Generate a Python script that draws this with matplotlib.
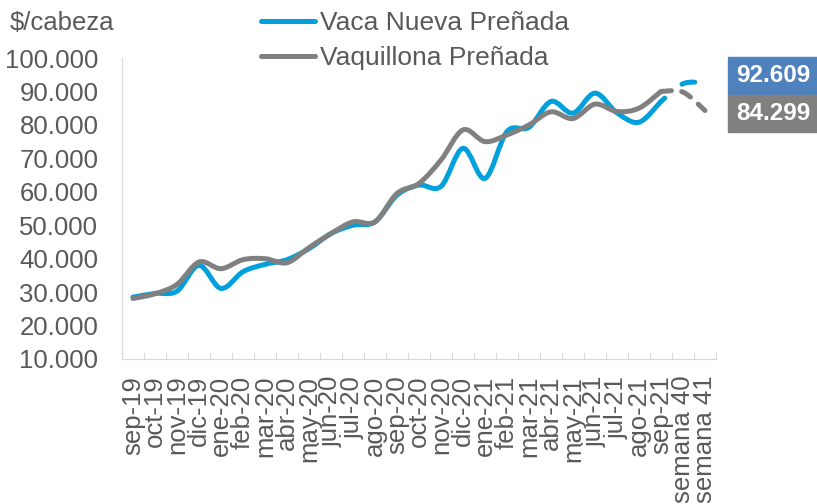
import numpy as np
import matplotlib
matplotlib.use('Agg')
import matplotlib.pyplot as plt
from matplotlib.path import Path
from matplotlib.patches import PathPatch, Rectangle
from matplotlib.lines import Line2D
from matplotlib.ticker import FuncFormatter, FixedLocator

plt.rcParams['font.family'] = ['Liberation Sans', 'DejaVu Sans']
plt.rcParams['lines.scale_dashes'] = False

meses = ['sep-19', 'oct-19', 'nov-19', 'dic-19', 'ene-20', 'feb-20', 'mar-20',
         'abr-20', 'may-20', 'jun-20', 'jul-20', 'ago-20', 'sep-20', 'oct-20',
         'nov-20', 'dic-20', 'ene-21', 'feb-21', 'mar-21', 'abr-21', 'may-21',
         'jun-21', 'jul-21', 'ago-21', 'sep-21', 'semana 40', 'semana 41']

# valores mensuales (sep-19 a sep-21)
vaca = [28500, 29600, 30300, 38000, 31100, 36100, 38300, 39700, 43000, 47500,
        50000, 51000, 59000, 62000, 61600, 73000, 64000, 78000, 79300, 87000,
        83500, 89500, 83600, 80800, 87000]
vaquillona = [28100, 29500, 32300, 39000, 37000, 39700, 40000, 38800, 43300, 47500,
              51000, 51000, 59500, 62500, 69500, 78500, 75000, 77000, 80000, 83900,
              81900, 86200, 84000, 85000, 90000]
# ultimas semanas (desde sep-21)
vaca_sem = [87000, 92300, 92609]
vaquillona_sem = [90000, 89800, 84299]

azul = '#00A0DC'
gris = '#808080'
texto = '#595959'
eje = '#D9D9D9'


def curva(x, y):
    # curva suavizada tipo Excel (Catmull-Rom -> Bezier)
    p = np.column_stack([x, y]).astype(float)
    n = len(p)
    verts = [p[0]]
    codes = [Path.MOVETO]
    for i in range(n - 1):
        p0 = p[i - 1] if i > 0 else p[i]
        p1 = p[i]
        p2 = p[i + 1]
        p3 = p[i + 2] if i + 2 < n else p[i + 1]
        verts += [p1 + (p2 - p0) / 6, p2 - (p3 - p1) / 6, p2]
        codes += [Path.CURVE4] * 3
    return Path(verts, codes)


fig = plt.figure(figsize=(8.17, 5.04), dpi=100)
ax = fig.add_axes([122 / 817, 1 - 359 / 504, 594 / 817, 301 / 504])

x_mes = np.arange(len(vaca))
x_sem = np.arange(len(vaca) - 1, len(meses))

lw = 3.6
for ys, c, ls in [(vaca_sem, azul, (5.8, (9.4, 16))),
                  (vaquillona_sem, gris, (0, (7.5, 7.5)))]:
    ax.add_patch(PathPatch(curva(x_sem, ys), fill=False, edgecolor=c, lw=lw,
                           capstyle='round', joinstyle='round',
                           linestyle=ls, zorder=3))
ax.add_patch(PathPatch(curva(x_mes, vaca), fill=False, edgecolor=azul, lw=lw,
                       capstyle='round', joinstyle='round', zorder=4))
ax.add_patch(PathPatch(curva(x_mes, vaquillona), fill=False, edgecolor=gris, lw=lw,
                       capstyle='round', joinstyle='round', zorder=5))

ax.set_xlim(-0.5, len(meses) - 0.5)
ax.set_ylim(10000, 100000)
ax.set_yticks(np.arange(10000, 100001, 10000))
ax.yaxis.set_major_formatter(FuncFormatter(lambda v, p: f'{int(v):,}'.replace(',', '.')))
ax.set_xticks(np.arange(len(meses)))
ax.set_xticklabels(meses, rotation=90)
ax.xaxis.set_minor_locator(FixedLocator(np.arange(-0.5, len(meses), 1)))

ax.tick_params(axis='y', length=0, pad=17, labelsize=18.5, labelcolor=texto)
ax.tick_params(axis='x', which='major', length=0, pad=12, labelsize=18.5, labelcolor=texto)
ax.tick_params(axis='x', which='minor', direction='in', length=5, width=0.8, color=eje)

for s in ['top', 'right']:
    ax.spines[s].set_visible(False)
for s in ['left', 'bottom']:
    ax.spines[s].set_color(eje)
    ax.spines[s].set_linewidth(0.9)

fig.text(10 / 817, 1 - 23 / 504, '$/cabeza', fontsize=18.5, color=texto,
         ha='left', va='center')

handles = [Line2D([], [], color=azul, lw=lw, solid_capstyle='round'),
           Line2D([], [], color=gris, lw=lw, solid_capstyle='round')]
leg = fig.legend(handles, ['Vaca Nueva Preñada', 'Vaquillona Preñada'],
                 loc='upper left', bbox_to_anchor=(261 / 817, 1 - 11 / 504),
                 frameon=False, fontsize=19, handlelength=2.05, handletextpad=0.2,
                 labelspacing=0.42, borderpad=0, borderaxespad=0)
for t in leg.get_texts():
    t.set_color(texto)

# cajas con ultimo valor
for (y0, y1), val, c in [((57, 95), vaca_sem[-1], '#4F81BD'),
                         ((95, 132), vaquillona_sem[-1], gris)]:
    fig.patches.append(Rectangle((728 / 817, 1 - y1 / 504), 89 / 817, (y1 - y0) / 504,
                                 transform=fig.transFigure, color=c, zorder=1))
    fig.text(773 / 817, 1 - (y0 + y1) / 2 / 504, f'{val:,}'.replace(',', '.'),
             color='white', fontsize=17.5, fontweight='bold', ha='center', va='center')

fig.savefig('out.png', dpi=100)
